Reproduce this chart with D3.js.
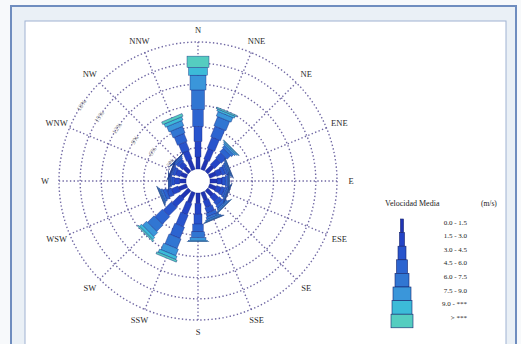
<!DOCTYPE html>
<html><head><meta charset="utf-8">
<script src="https://cdn.jsdelivr.net/npm/d3@7"></script>
<style>html,body{margin:0;padding:0;background:#f7f9fb;}svg{display:block;}</style>
</head><body>
<svg id="chart" width="521" height="344"></svg>
<script>
const directions = ["N","NNE","NE","ENE","E","ESE","SE","SSE","S","SSW","SW","WSW","W","WNW","NW","NNW"];
const speedClasses = ["0.0 - 1.5","1.5 - 3.0","3.0 - 4.5","4.5 - 6.0","6.0 - 7.5","7.5 - 9.0","9.0 - ***","> ***"];
const ringTicks = [3,6,9,12,15,18];
const ringLabels = ["3%","6%","9%","12%","15%","18%"];
// frequency (%) per direction for each speed class
const c1 = [1.7,1.5,1.2,1.0,1.0,1.0,1.1,1.2,1.5,1.6,1.5,1.2,0.9,0.9,1.0,1.5];
const c2 = [2.2,1.6,1.2,0.8,0.7,0.7,0.9,1.0,1.5,1.7,1.6,1.0,0.7,0.7,0.7,1.3];
const c3 = [2.1,1.7,1.0,0.5,0.45,0.5,0.6,0.8,1.4,1.8,1.6,0.7,0.4,0.4,0.4,1.3];
const c4 = [2.4,1.6,0.7,0.3,0.3,0.3,0.4,0.5,1.1,1.7,1.5,0.5,0.25,0.2,0.25,1.2];
const c5 = [2.8,1.4,0.4,0.2,0.15,0.2,0.25,0.35,0.8,1.5,1.3,0.3,0.15,0.1,0.15,1.0];
const c6 = [2.1,0.7,0.25,0.15,0.1,0.1,0.15,0.2,0.4,1.0,0.8,0.15,0.05,0.05,0.05,0.8];
const c7 = [1.1,0.3,0.15,0.1,0.05,0.05,0.05,0.1,0.15,0.5,0.4,0.1,0.03,0.03,0.03,0.5];
const c8 = [1.6,0.2,0.1,0.05,0.05,0.05,0.05,0.05,0.05,0.3,0.2,0.05,0.02,0.02,0.02,0.4];
const classSeries = [c1,c2,c3,c4,c5,c6,c7,c8];

const svg = d3.select("#chart");
const W = 521, H = 344;

// frames
svg.append("rect").attr("x",0).attr("y",0).attr("width",W).attr("height",H).attr("fill","#f7f9fb");
svg.append("rect").attr("x",11).attr("y",6).attr("width",505).attr("height",400)
  .attr("fill","#eaf0f6").attr("stroke","#6f8dbf").attr("stroke-width",2);
svg.append("rect").attr("x",25).attr("y",21).attr("width",481).attr("height",400)
  .attr("fill","#ffffff").attr("stroke","#9fb2d2").attr("stroke-width",1);

const cx = 198, cy = 181;
const r = d3.scaleLinear().domain([0,18]).range([12,139]);
const ang = d3.scaleBand().domain(directions).range([0,360]).paddingInner(0).align(0);
const angleOf = d => ang(d); // degrees, 0 = north, clockwise
const color = d3.scaleOrdinal().domain(speedClasses)
  .range(["#2034b4","#2444c6","#2854cc","#2c64d0","#3176d2","#3a96da","#3cbbd8","#55cdc0"]);
const barWidth = d3.scaleOrdinal().domain(speedClasses).range([4,6,8,10.5,13,16,19,22]);

const g = svg.append("g").attr("transform",`translate(${cx},${cy})`);
const gridColor = "#6f67a3";

// rings
g.selectAll("circle.ring").data(ringTicks).join("circle").attr("class","ring")
  .attr("r",d=>r(d)).attr("fill","none").attr("stroke",gridColor)
  .attr("stroke-width",1.4).attr("stroke-dasharray","1.4 2.3");

// spokes
g.selectAll("line.spoke").data(directions).join("line").attr("class","spoke")
  .attr("x1",d=>r(0)*Math.sin(angleOf(d)*Math.PI/180))
  .attr("y1",d=>-r(0)*Math.cos(angleOf(d)*Math.PI/180))
  .attr("x2",d=>r(18)*Math.sin(angleOf(d)*Math.PI/180))
  .attr("y2",d=>-r(18)*Math.cos(angleOf(d)*Math.PI/180))
  .attr("stroke",gridColor).attr("stroke-width",1.4).attr("stroke-dasharray","1.4 2.3");

// ring labels
const labAng = 303;
g.selectAll("text.ringlab").data(ringTicks).join("text").attr("class","ringlab")
  .attr("transform",(d)=>{
    const a = labAng*Math.PI/180;
    const x = r(d)*Math.sin(a), y = -r(d)*Math.cos(a);
    return `translate(${x},${y}) rotate(${labAng-360})`;
  })
  .attr("text-anchor","middle").attr("dy","0.35em")
  .attr("font-family","Liberation Serif").attr("font-size",6.5).attr("fill","#7a7a7a")
  .text((d,i)=>ringLabels[i]);

// hole
g.append("circle").attr("r",r(0)).attr("fill","#ffffff");

// stacked bars
const rows = directions.map((d,i)=>{
  const o = {dir:d};
  speedClasses.forEach((c,k)=>o[c]=classSeries[k][i]);
  return o;
});
const stacked = d3.stack().keys(speedClasses)(rows);
const segs = [];
stacked.forEach(layer=>{
  layer.forEach(p=>segs.push({cls:layer.key, dir:p.data.dir, v0:p[0], v1:p[1]}));
});
g.selectAll("rect.seg").data(segs).join("rect").attr("class","seg")
  .attr("transform",d=>`rotate(${angleOf(d.dir)})`)
  .attr("x",d=>-barWidth(d.cls)/2)
  .attr("y",d=>-r(d.v1))
  .attr("width",d=>barWidth(d.cls))
  .attr("height",d=>r(d.v1)-r(d.v0))
  .attr("fill",d=>color(d.cls))
  .attr("stroke","#1a2a86").attr("stroke-width",0.4);

// direction labels
g.selectAll("text.dir").data(directions).join("text").attr("class","dir")
  .attr("x",d=>153*Math.sin(angleOf(d)*Math.PI/180))
  .attr("y",d=>-151*Math.cos(angleOf(d)*Math.PI/180))
  .attr("dy","0.35em").attr("text-anchor","middle")
  .attr("font-family","Liberation Serif").attr("font-size",8.5).attr("fill","#2a2a2a")
  .text(d=>d);

// legend
const legTop = 219, segH = 13.6, legX = 402;
const legW = d3.scaleOrdinal().domain(speedClasses).range([3,5,8,11,14,18,20,22]);
const lg = svg.append("g");
lg.selectAll("rect").data(speedClasses).join("rect")
  .attr("x",d=>legX-legW(d)/2).attr("y",(d,i)=>legTop+i*segH)
  .attr("width",d=>legW(d)).attr("height",segH)
  .attr("fill",d=>color(d)).attr("stroke","#16236e").attr("stroke-width",0.6);
lg.selectAll("text").data(speedClasses).join("text")
  .attr("x",467).attr("y",(d,i)=>legTop+i*segH+5.5)
  .attr("text-anchor","end").attr("font-family","Liberation Serif")
  .attr("font-size",7).attr("fill","#222").text(d=>d);
svg.append("text").attr("x",385).attr("y",206).attr("font-family","Liberation Serif")
  .attr("font-size",8).attr("fill","#222").text("Velocidad Media");
svg.append("text").attr("x",481).attr("y",206).attr("font-family","Liberation Serif")
  .attr("font-size",7.5).attr("fill","#222").text("(m/s)");
</script>
</body></html>
